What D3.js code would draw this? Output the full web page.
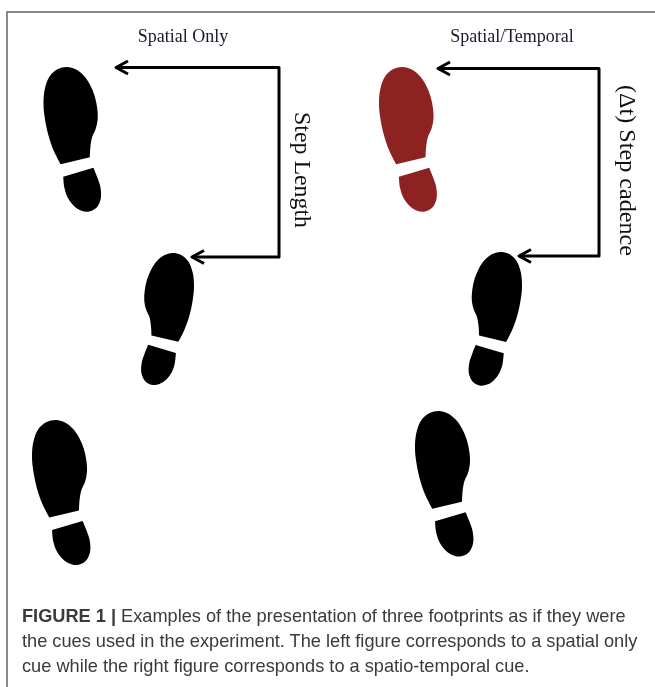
<!DOCTYPE html>
<html>
<head>
<meta charset="utf-8">
<script src="https://cdn.jsdelivr.net/npm/d3@7"></script>
<style>
  html, body { margin: 0; padding: 0; background: #fff; }
</style>
</head>
<body>
<div id="fig"></div>
<script>
const width = 655;
const height = 687;

// footprints: bounding boxes in image pixels
const footNames = ["spatial-1", "spatial-2", "spatial-3", "temporal-1", "temporal-2", "temporal-3"];
const footLeft = [43.5, 141.5, 32, 379, 469, 415];
const footRight = [100.7, 194, 90, 436.5, 522, 473];
const footTop = [67, 253, 420, 67, 252, 411];
const footBottom = [211.7, 385, 565, 211.7, 385.7, 556.5];
const footMirrored = [false, true, false, false, true, false];
const footActive = [false, false, false, true, false, false];

// outline of one shoe print, traced from the first footprint
const soleOutline = [[60.7, 164.3], [54, 151], [48.5, 135], [45, 118], [43.7, 104], [45, 89], [50, 76],
  [58, 69], [67, 67], [76, 69.5], [84, 76], [90, 85], [94.5, 96], [97, 108], [97.5, 119], [95.5, 129],
  [92, 137], [90.3, 146.7], [89.7, 157.3]];
const heelOutline = [[63.3, 176.7], [64.5, 188], [68, 198], [74, 206], [81, 210.5], [88, 211.7], [96, 208],
  [100.5, 199], [100.2, 187], [97, 177], [93.3, 167.7]];

// the two step connectors: start of arrow, corner, corner, end of arrow
const connectorX = [[116, 279, 279, 192], [438, 599, 599, 519]];
const connectorY = [[67.5, 67.5, 257, 257], [68.5, 68.5, 256, 256]];

const headings = ["Spatial Only", "Spatial/Temporal"];
const sideLabels = ["Step Length", "(\u0394t) Step cadence"];
const sideLengths = [116, 171];
const captionBold = "FIGURE 1 |";
const captionLines = [
  " Examples of the presentation of three footprints as if they were",
  "the cues used in the experiment. The left figure corresponds to a spatial only",
  "cue while the right figure corresponds to a spatio-temporal cue."
];

const svg = d3.select("#fig")
  .append("svg")
  .attr("width", width)
  .attr("height", height)
  .style("display", "block")
  .style("filter", "blur(0.35px)");

// frame of the figure
svg.append("path")
  .attr("d", d3.line()([[7, height], [7, 12], [width, 12]]))
  .attr("fill", "none")
  .attr("stroke", "#8a8a8a")
  .attr("stroke-width", 2);

const templateX = d3.extent(soleOutline.concat(heelOutline), d => d[0]);
const templateY = d3.extent(soleOutline.concat(heelOutline), d => d[1]);

footNames.forEach(function (name, i) {
  const x = d3.scaleLinear()
    .domain(footMirrored[i] ? [templateX[1], templateX[0]] : templateX)
    .range([footLeft[i], footRight[i]]);
  const y = d3.scaleLinear().domain(templateY).range([footTop[i], footBottom[i]]);
  const shape = d3.line().x(d => x(d[0])).y(d => y(d[1])).curve(d3.curveCatmullRom);

  svg.selectAll(".foot-" + name)
    .data([soleOutline, heelOutline])
    .enter()
    .append("path")
    .attr("class", "foot-" + name)
    .attr("d", d => shape(d) + "Z")
    .attr("fill", footActive[i] ? "#8c2322" : "#000");
});

// connectors with open arrow heads
connectorX.forEach(function (xs, i) {
  const ys = connectorY[i];
  const route = xs.map((v, k) => [v, ys[k]]);
  const g = svg.append("g")
    .attr("fill", "none")
    .attr("stroke", "#000")
    .attr("stroke-width", 3)
    .attr("stroke-linejoin", "round");
  g.append("path").attr("d", d3.line()(route));
  [route[0], route[3]].forEach(function (tip) {
    g.append("path").attr("d", d3.line()([[tip[0] + 12, tip[1] - 6.5], [tip[0], tip[1]], [tip[0] + 12, tip[1] + 6.5]]));
  });
});

// headings above each panel
svg.selectAll(".heading")
  .data(headings)
  .enter()
  .append("text")
  .attr("class", "heading")
  .attr("x", (d, i) => [183, 512][i])
  .attr("y", 42)
  .attr("text-anchor", "middle")
  .style("font-family", "'Liberation Serif', serif")
  .style("font-size", "18px")
  .style("fill", "#1a1a2a")
  .text(d => d);

// labels along the connectors, stretched lengthwise like the source image
svg.selectAll(".side")
  .data(sideLabels)
  .enter()
  .append("text")
  .attr("class", "side")
  .attr("transform", (d, i) => `translate(${[294.5, 620][i]},${[112, 85][i]}) rotate(90)`)
  .attr("textLength", (d, i) => sideLengths[i])
  .attr("lengthAdjust", "spacingAndGlyphs")
  .style("font-family", "'Liberation Serif', serif")
  .style("font-size", "22.5px")
  .style("fill", "#111")
  .text(d => d);

// caption
const caption = svg.selectAll(".caption")
  .data(captionLines)
  .enter()
  .append("text")
  .attr("class", "caption")
  .attr("x", 22)
  .attr("y", (d, i) => 621.5 + i * 25.3)
  .style("font-family", "'Liberation Sans', sans-serif")
  .style("font-size", "18.2px")
  .style("fill", "#3a3a3a");

caption.filter((d, i) => i === 0)
  .append("tspan")
  .style("font-weight", "bold")
  .text(captionBold);
caption.append("tspan").text(d => d);
</script>
</body>
</html>
